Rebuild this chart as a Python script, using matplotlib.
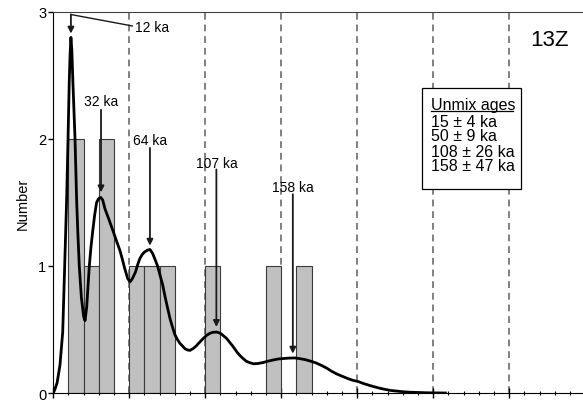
import matplotlib
matplotlib.use('Agg')
import matplotlib.pyplot as plt
from matplotlib.patches import Rectangle

plt.rcParams['font.family'] = ['Liberation Sans', 'DejaVu Sans']

# histogram of grain ages (10 ka bins)
bin_left = [10, 20, 30, 50, 60, 70, 100, 140, 160]
bin_count = [2, 1, 2, 1, 1, 1, 1, 1, 1]
bin_width = 10

# probability density curve
curve_ka = [0, 1.1, 2.5, 4.4, 6.2, 7.5, 8.8, 9.7, 10.5, 11.0, 11.6, 12.2, 12.9,
            14.3, 15.4, 16.2, 17.1, 18.5, 20.0, 20.9, 22.0, 23.7, 24.8, 26.0,
            27.2, 28.5, 29.8, 31.2, 32.5, 34.0, 36.5, 39.5, 41.5, 43.9, 45.5,
            47.0, 49.0, 50.5, 52.0, 54.0, 55.5, 57.0, 58.5, 60.0, 62.0, 63.6,
            65.3, 67.0, 68.6, 70.2, 72.0, 73.5, 75.0, 76.8, 78.4, 80.0, 81.7,
            83.4, 85.0, 86.5, 88.0, 89.9, 92.0, 94.0, 96.3, 98.7, 101.0, 103.0,
            105.0, 107.5, 110.0, 112.0, 114.0, 116.0, 118.0, 119.5, 121.0,
            122.8, 125.0, 127.0, 129.0, 131.6, 134.5, 138.0, 141.0, 144.7,
            148.0, 152.0, 155.5, 159.0, 162.5, 166.0, 169.5, 173.0, 176.5,
            180.0, 183.0, 186.5, 190.0, 193.5, 197.0, 200.7, 204.0, 208.0,
            211.5, 215.0, 218.5, 222.0, 226.0, 230.0, 235.0, 240.0, 245.0,
            250.0, 258.0]
curve_n = [0, 0.03, 0.08, 0.22, 0.48, 1.0, 1.53, 2.0, 2.45, 2.65, 2.80, 2.7, 2.45,
           2.0, 1.5, 1.25, 1.0, 0.75, 0.6, 0.57, 0.68, 1.0, 1.15, 1.28,
           1.40, 1.50, 1.53, 1.54, 1.52, 1.45, 1.37, 1.27, 1.20, 1.12, 1.05,
           0.98, 0.90, 0.875, 0.90, 0.95, 1.01, 1.06, 1.09, 1.11, 1.125, 1.13,
           1.10, 1.05, 1.0, 0.93, 0.85, 0.76, 0.68, 0.585, 0.52, 0.46, 0.42,
           0.39, 0.37, 0.35, 0.34, 0.335, 0.35, 0.37, 0.40, 0.43, 0.455, 0.47,
           0.478, 0.48, 0.47, 0.45, 0.43, 0.40, 0.37, 0.345, 0.32,
           0.295, 0.27, 0.25, 0.24, 0.23, 0.232, 0.24, 0.25, 0.26,
           0.268, 0.272, 0.275, 0.276, 0.27, 0.262, 0.25, 0.236, 0.217,
           0.195, 0.172, 0.15, 0.132, 0.115, 0.10, 0.09, 0.075, 0.06,
           0.048, 0.037, 0.028, 0.02, 0.015, 0.01, 0.006, 0.004, 0.002,
           0.001, 0.0]

# peak labels
peak_ka = [31.4, 63.6, 107.3, 157.6]
peak_top = [2.23, 1.93, 1.76, 1.565]
peak_tip = [1.58, 1.16, 0.52, 0.31]
peak_text = ['32 ka', '64 ka', '107 ka', '158 ka']
peak_text_y = [2.30, 1.99, 1.81, 1.62]

unmix_title = 'Unmix ages'
unmix_lines = ['15 \u00b1 4 ka', '50 \u00b1 9 ka', '108 \u00b1 26 ka', '158 \u00b1 47 ka']
unmix_y = [2.134, 2.024, 1.905, 1.794]

fig = plt.figure(figsize=(5.83, 4.02), dpi=100)
ax = fig.add_axes([0.0914, 0.0199, 0.9125, 0.9478])

for xv in range(50, 350, 50):
    ax.axvline(xv, color='#808080', lw=1.4, ls=(0, (3.5, 2.5)), zorder=1)

ax.bar(bin_left, bin_count, width=bin_width, align='edge', color='#c0c0c0',
       edgecolor='#3a3a3a', lw=0.8, zorder=2)

ax.plot(curve_ka, curve_n, color='black', lw=2, zorder=4, solid_joinstyle='round')

arrow = dict(arrowstyle='-|>', color='#1a1a1a', lw=1.3, mutation_scale=9,
             shrinkA=0, shrinkB=0)
# 12 ka label with bent leader
ax.plot([52.0, 11.6], [2.89, 2.98], color='#1a1a1a', lw=1.0, zorder=5)
ax.annotate('', xy=(11.6, 2.83), xytext=(11.6, 2.98), arrowprops=arrow, zorder=5)
ax.text(53.5, 2.885, '12 ka', fontsize=10, ha='left', va='center', zorder=5)

for xk, top, tip, lab, ty in zip(peak_ka, peak_top, peak_tip, peak_text, peak_text_y):
    ax.annotate('', xy=(xk, tip), xytext=(xk, top), arrowprops=arrow, zorder=5)
    ax.text(xk, ty, lab, fontsize=10, ha='center', va='center', zorder=5)

ax.add_patch(Rectangle((242.4, 1.607), 65.3, 0.793, facecolor='white',
                       edgecolor='black', lw=0.9, zorder=6))
title = ax.text(248.5, 2.27, unmix_title, fontsize=11.5,
                ha='left', va='center', zorder=7)
for line, yv in zip(unmix_lines, unmix_y):
    ax.text(248.5, yv, line, fontsize=11.5, ha='left', va='center', zorder=7)

# underline the box title
fig.canvas.draw()
bb = title.get_window_extent().transformed(ax.transData.inverted())
ax.plot([bb.x0, bb.x1], [2.219, 2.219], color='black', lw=0.9, zorder=7)

ax.text(326.7, 2.78, '13Z', fontsize=16, ha='center', va='center')

ax.set_xlim(0, 350)
ax.set_ylim(0, 3)
ax.set_xticks(range(0, 351, 50))
ax.set_xticks(range(0, 351, 10), minor=True)
ax.set_xticklabels([])
ax.tick_params(axis='x', which='major', direction='inout', length=7, width=1)
ax.tick_params(axis='x', which='minor', direction='inout', length=3, width=0.8)
ax.set_yticks([0, 1, 2, 3])
ax.tick_params(axis='y', direction='out', length=3.6, width=1, pad=1.5, labelsize=10.5)
ax.set_ylabel('Number', fontsize=10.5, labelpad=6)
ax.spines['right'].set_visible(False)
ax.spines['top'].set_color('#404040')

fig.savefig('out.png', dpi=100)
